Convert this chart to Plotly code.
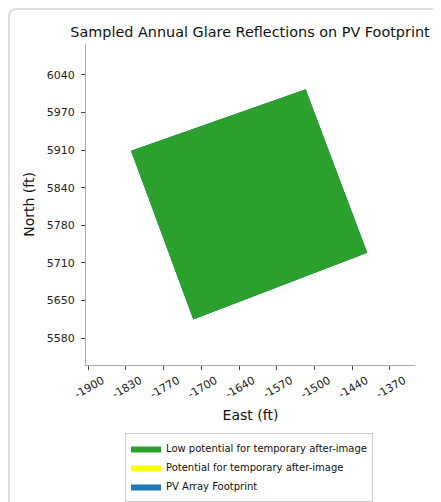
import numpy as np
import plotly.graph_objects as go

# Footprint corners (East, North in ft)
corner_east = [-1825.0, -1518.0, -1409.8, -1715.5]
corner_north = [5907.6, 6015.0, 5729.2, 5612.7]

x_tick_labels = ["-1900", "-1830", "-1770", "-1700", "-1640", "-1570", "-1500", "-1440", "-1370"]
y_tick_labels = ["5580", "5650", "5710", "5780", "5840", "5910", "5970", "6040"]
x_tick_vals = np.linspace(-1900, -1370, len(x_tick_labels))
y_tick_vals = np.linspace(5580, 6040, len(y_tick_labels))

series_names = ["Low potential for temporary after-image",
                "Potential for temporary after-image",
                "PV Array Footprint"]
series_colors = ["#2ca02c", "#ffff00", "#1f77b4"]

poly_x = corner_east + [corner_east[0]]
poly_y = corner_north + [corner_north[0]]

fig = go.Figure()
# PV footprint (underneath)
fig.add_trace(go.Scatter(x=poly_x, y=poly_y, fill="toself", mode="lines",
                         line=dict(width=0, color=series_colors[2]),
                         fillcolor=series_colors[2], name=series_names[2],
                         legendrank=3, hoverinfo="skip"))
# Low potential glare (covers footprint)
fig.add_trace(go.Scatter(x=poly_x, y=poly_y, fill="toself", mode="lines",
                         line=dict(width=0, color=series_colors[0]),
                         fillcolor=series_colors[0], name=series_names[0],
                         legendrank=1, hoverinfo="skip"))
# Potential glare (none present)
fig.add_trace(go.Scatter(x=[None], y=[None], fill="toself", mode="lines",
                         line=dict(width=0, color=series_colors[1]),
                         fillcolor=series_colors[1], name=series_names[1],
                         legendrank=2, hoverinfo="skip"))

OFF = 8  # page body margin
W, H = 441 - OFF, 502 - OFF
L = 86 - OFF
T = 44 - OFF
R = W - (415 - OFF)
B = H - (365 - OFF)
pw, ph = W - L - R, H - T - B

def px_x(p):
    return (p - OFF - L) / pw

def px_y(p):
    return (H - B - (p - OFF)) / ph

r = 8
x0, y0 = px_x(OFF + 1), px_y(OFF + 1)
x1, yb = px_x(460), px_y(520)
rx, ry = r / pw, r / ph
card_path = (f"M {x0},{yb} L {x0},{y0 - ry} Q {x0},{y0} {x0 + rx},{y0} L {x1},{y0}")

fig.update_layout(
    width=W, height=H,
    margin=dict(l=L, r=R, t=T, b=B, autoexpand=False),
    paper_bgcolor="white", plot_bgcolor="white",
    font=dict(family="DejaVu Sans", color="#222", size=11),
    title=dict(text="Sampled Annual Glare Reflections on PV Footprint",
               x=px_x(250), xref="paper", xanchor="center",
               y=1 - (32 - OFF) / H, yref="container", yanchor="middle",
               font=dict(size=14.4, color="#111")),
    showlegend=True,
    legend=dict(x=px_x(249), xanchor="center", y=px_y(433), yanchor="top",
                orientation="v", bgcolor="white", bordercolor="#cccccc",
                borderwidth=1, font=dict(size=10, color="#111"),
                tracegroupgap=0, itemwidth=30),
    shapes=[dict(type="path", path=card_path, xref="paper", yref="paper",
                 line=dict(color="#dddddd", width=2), layer="below")],
)

fig.update_xaxes(range=[-1904, -1326], tickvals=x_tick_vals, ticktext=x_tick_labels,
                 tickangle=-30, ticks="outside", ticklen=4, tickcolor="#444",
                 showline=True, linecolor="#aaaaaa", linewidth=1, automargin=False,
                 showgrid=False, zeroline=False, ticklabelshift=14,
                 tickfont=dict(size=11, color="#222"),
                 title=dict(text="East (ft)", font=dict(size=14, color="#111"), standoff=10))
fig.update_yaxes(range=[5533, 6094], tickvals=y_tick_vals, ticktext=y_tick_labels,
                 ticks="outside", ticklen=4, tickcolor="#444",
                 showline=True, linecolor="#aaaaaa", linewidth=1, automargin=False,
                 showgrid=False, zeroline=False, ticklabelstandoff=4,
                 tickfont=dict(size=11, color="#222"),
                 title=dict(text="North (ft)", font=dict(size=14, color="#111"), standoff=8))

fig.write_html("out.html")
